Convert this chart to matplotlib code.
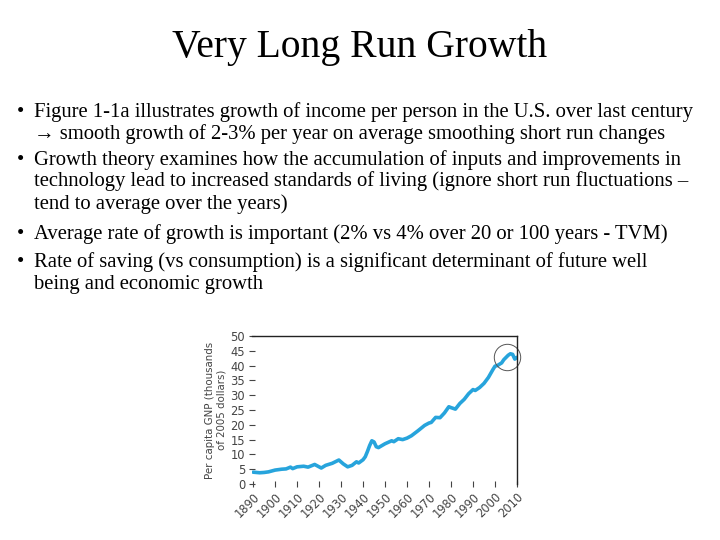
import matplotlib
matplotlib.use("Agg")
import matplotlib.pyplot as plt
import numpy as np

title = "Very Long Run Growth"
bullets = [
    ["Figure 1-1a illustrates growth of income per person in the U.S. over last century",
     "\u2192 smooth growth of 2-3% per year on average smoothing short run changes"],
    ["Growth theory examines how the accumulation of inputs and improvements in",
     "technology lead to increased standards of living (ignore short run fluctuations \u2013",
     "tend to average over the years)"],
    ["Average rate of growth is important (2% vs 4% over 20 or 100 years - TVM)"],
    ["Rate of saving (vs consumption) is a significant determinant of future well",
     "being and economic growth"],
]

years = [1890, 1893, 1895, 1897, 1900, 1903, 1905, 1907, 1908, 1910, 1913, 1915,
         1918, 1921, 1923, 1926, 1929, 1931, 1933, 1935, 1937, 1938, 1940, 1941,
         1942, 1943, 1944, 1945, 1946, 1947, 1950, 1953, 1954, 1956, 1958, 1960,
         1962, 1965, 1968, 1970, 1971, 1973, 1975, 1977, 1979, 1980, 1982, 1984,
         1986, 1988, 1990, 1991, 1993, 1995, 1997, 1999, 2000, 2001, 2003, 2004,
         2006, 2007, 2008, 2009, 2010]
gnp = [4.0, 3.8, 3.9, 4.1, 4.7, 5.0, 5.1, 5.7, 5.2, 5.8, 6.0, 5.7,
       6.6, 5.4, 6.3, 7.0, 8.1, 6.8, 5.8, 6.3, 7.5, 7.1, 8.2, 9.2,
       11.0, 13.0, 14.6, 14.2, 12.6, 12.3, 13.6, 14.6, 14.3, 15.3, 15.0, 15.5,
       16.3, 18.0, 19.8, 20.6, 20.8, 22.5, 22.4, 24.0, 26.1, 25.8, 25.3, 27.2,
       28.6, 30.5, 31.9, 31.6, 32.6, 34.0, 36.0, 38.6, 39.8, 40.0, 40.9, 42.0,
       43.5, 44.0, 43.8, 42.2, 42.8]
xticks = list(range(1890, 2011, 10))
yticks = list(range(0, 51, 5))

W, H = 720, 540
fig = plt.figure(figsize=(7.2, 5.4), dpi=100)
fig.patch.set_facecolor("white")

def fx(px):
    return px / W

def fy(py):
    return 1 - py / H

serif = ["Liberation Serif", "DejaVu Serif"]
fig.text(fx(360), fy(48), title, ha="center", va="center", fontsize=28.5,
         family=serif, color="black")

line_y = [112, 134, 160, 181, 204, 234, 262, 285]
k = 0
for b in bullets:
    for j, ln in enumerate(b):
        y = line_y[k]
        if j == 0:
            fig.text(fx(20), fy(y), "\u2022", ha="center", va="center",
                     fontsize=15, family=serif)
        fig.text(fx(34), fy(y), ln, ha="left", va="center", fontsize=14.9,
                 family=serif, color="black")
        k += 1

ax = fig.add_axes([fx(252), fy(484), fx(517) - fx(252), fy(336) - fy(484)])
ax.plot(years, gnp, color="#27a4dc", lw=2.6, solid_capstyle="round")
pk = int(np.argmax(gnp))
ax.plot([years[pk] - 1.5], [gnp[pk] - 1], marker="o", ms=19, mfc="none",
        mec="#555555", mew=0.7, clip_on=False)
ax.set_xlim(1889.5, 2010)
ax.set_ylim(0, 50)
for s in ["left", "bottom"]:
    ax.spines[s].set_visible(False)
for s in ["top", "right"]:
    ax.spines[s].set_linewidth(1.0)
    ax.spines[s].set_color("#222222")
ax.set_xticks(xticks)
ax.set_yticks(yticks)
ax.set_xticklabels([str(x) for x in xticks], rotation=45, ha="right",
                   rotation_mode="anchor", fontsize=8.3, color="#444444")
ax.set_yticklabels([str(y) for y in yticks], fontsize=8.3, color="#444444")
ax.tick_params(axis="y", direction="inout", length=4, width=0.8, pad=3, colors="#444444")
ax.tick_params(axis="x", direction="inout", length=5, width=0.8, pad=2, colors="#444444")
ax.set_ylabel("Per capita GNP (thousands\nof 2005 dollars)", fontsize=7.4,
              color="#444444", linespacing=1.15, labelpad=3)

fig.savefig("out.png", dpi=100, facecolor="white")
